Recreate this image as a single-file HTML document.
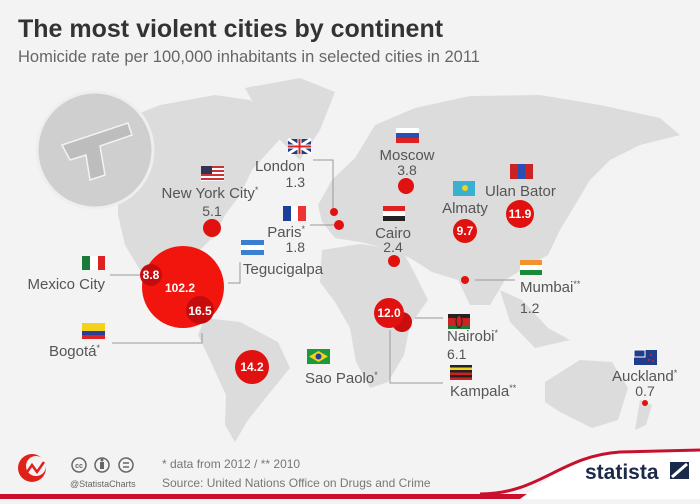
<!DOCTYPE html>
<html><head><meta charset="utf-8"><style>
body{margin:0;width:700px;height:499px;overflow:hidden;background:#f3f3f3;font-family:"Liberation Sans",sans-serif}
</style></head><body>
<svg width="700" height="499" viewBox="0 0 700 499" xmlns="http://www.w3.org/2000/svg" font-family="Liberation Sans, sans-serif">
<rect width="700" height="499" fill="#f3f3f3"/>
<g fill="#dcdcdc">
<!-- North America -->
<path d="M110,125 L160,105 L215,95 L250,100 L290,128 L270,150 L252,170 L240,195 L225,215 L215,235 L200,250 L185,262 L178,285 L195,300 L210,315 L200,320 L180,305 L160,290 L140,270 L125,245 L118,215 L118,180 L105,150 Z"/>
<path d="M245,88 L300,78 L335,92 L320,130 L300,160 L280,140 L260,115 Z"/>
<!-- South America -->
<path d="M205,318 L240,322 L278,342 L290,368 L268,395 L248,420 L235,442 L225,425 L226,395 L210,360 L198,335 Z"/>
<!-- Europe / Asia -->
<path d="M318,205 L332,180 L355,158 L375,125 L415,108 L470,96 L540,95 L600,105 L660,118 L680,135 L640,145 L610,160 L590,180 L575,205 L560,230 L548,255 L525,268 L505,280 L490,305 L470,305 L458,280 L432,272 L410,258 L385,248 L360,242 L335,238 L322,222 Z"/>
<!-- Africa -->
<path d="M322,250 L360,244 L402,250 L414,272 L428,300 L410,325 L404,355 L388,382 L370,388 L356,362 L350,328 L335,302 L320,282 Z"/>
<!-- SE Asia -->
<path d="M500,290 L522,300 L548,328 L570,340 L535,348 L510,322 Z"/>
<!-- Australia -->
<path d="M545,382 L580,360 L612,362 L628,388 L618,420 L592,428 L560,412 L545,402 Z"/>
<path d="M640,400 L652,405 L646,425 L635,430 Z"/>
</g>
<circle cx="95" cy="150" r="58" fill="#cfcfcf" stroke="#eeeeee" stroke-width="3"/>
<path d="M62,145 L128,123 L132,135 L100,146 L105,175 L90,180 L86,155 L70,160 Z" fill="#bdbdbd" stroke="#f3f3f3" stroke-width="1.5"/>

<text x="18" y="37" font-size="25" font-weight="bold" fill="#333">The most violent cities by continent</text>
<text x="18" y="62" font-size="16.5" fill="#666">Homicide rate per 100,000 inhabitants in selected cities in 2011</text>

<g stroke="#999" stroke-width="1" fill="none">
<path d="M313,160 H333 V208"/>
<path d="M310,225 H335"/>
<path d="M110,275 H140"/>
<path d="M240,262 V283 H228"/>
<path d="M112,343 H202 V333"/>
<path d="M475,280 H515"/>
<path d="M415,318 H443"/>
<path d="M390,330 V383 H443"/>
</g>

<g fill="#e0110f">
<circle cx="212" cy="228" r="9"/>
<circle cx="334" cy="212" r="4"/>
<circle cx="339" cy="225" r="5"/>
<circle cx="183" cy="287" r="41" fill="#f2150d"/>
<circle cx="151" cy="275" r="11" fill="#c40c0c"/>
<circle cx="200" cy="310" r="14" fill="#c40c0c"/>
<circle cx="252" cy="367" r="17"/>
<circle cx="406" cy="186" r="8"/>
<circle cx="394" cy="261" r="6"/>
<circle cx="465" cy="231" r="12"/>
<circle cx="520" cy="214" r="14"/>
<circle cx="465" cy="280" r="4"/>
<circle cx="402" cy="322" r="10" fill="#cc0d0d"/>
<circle cx="389" cy="313" r="15"/>
<circle cx="645" cy="403" r="3"/>
</g>
<g fill="#fff" font-size="12" font-weight="bold" text-anchor="middle">
<text x="151" y="279">8.8</text>
<text x="180" y="292">102.2</text>
<text x="200" y="315">16.5</text>
<text x="252" y="371">14.2</text>
<text x="465" y="235">9.7</text>
<text x="520" y="218">11.9</text>
<text x="389" y="317">12.0</text>
</g>

<g fill="#555" font-size="15">
<text x="210" y="198" text-anchor="middle">New York City<tspan font-size="9" dy="-5">*</tspan></text>
<text x="212" y="216" text-anchor="middle" font-size="14">5.1</text>
<text x="305" y="171" text-anchor="end">London</text>
<text x="305" y="187" text-anchor="end" font-size="14">1.3</text>
<text x="305" y="237" text-anchor="end">Paris<tspan font-size="9" dy="-5">*</tspan></text>
<text x="305" y="252" text-anchor="end" font-size="14">1.8</text>
<text x="105" y="289" text-anchor="end">Mexico City</text>
<text x="243" y="274">Tegucigalpa</text>
<text x="100" y="356" text-anchor="end">Bogotá<tspan font-size="9" dy="-5">*</tspan></text>
<text x="305" y="383">Sao Paolo<tspan font-size="9" dy="-5">*</tspan></text>
<text x="407" y="160" text-anchor="middle">Moscow</text>
<text x="407" y="175" text-anchor="middle" font-size="14">3.8</text>
<text x="393" y="238" text-anchor="middle">Cairo</text>
<text x="393" y="252" text-anchor="middle" font-size="14">2.4</text>
<text x="465" y="213" text-anchor="middle">Almaty</text>
<text x="485" y="196">Ulan Bator</text>
<text x="520" y="292">Mumbai<tspan font-size="9" dy="-5">**</tspan></text>
<text x="520" y="308" font-size="14" dy="5">1.2</text>
<text x="447" y="341">Nairobi<tspan font-size="9" dy="-5">*</tspan></text>
<text x="447" y="359" font-size="14">6.1</text>
<text x="450" y="396">Kampala<tspan font-size="9" dy="-5">**</tspan></text>
<text x="612" y="381">Auckland<tspan font-size="9" dy="-5">*</tspan></text>
<text x="645" y="396" text-anchor="middle" font-size="14">0.7</text>
</g>

<g>
<rect x="288" y="139" width="23" height="15" fill="#1f3d8a"/><path d="M288,139 L311,154 M311,139 L288,154" stroke="#fff" stroke-width="3"/><path d="M299.5,139 V154 M288,146.5 H311" stroke="#fff" stroke-width="4"/><path d="M299.5,139 V154 M288,146.5 H311" stroke="#d22" stroke-width="2"/>
<g><rect x="201" y="166" width="23" height="15" fill="#fff"/><rect x="201" y="166" width="23" height="2" fill="#c33"/><rect x="201" y="170" width="23" height="2" fill="#c33"/><rect x="201" y="174" width="23" height="2" fill="#c33"/><rect x="201" y="178" width="23" height="2" fill="#c33"/><rect x="201" y="166" width="11" height="8" fill="#335"/></g>
<rect x="283" y="206" width="8" height="15" fill="#1b3f9a"/><rect x="291" y="206" width="7" height="15" fill="#fff"/><rect x="298" y="206" width="8" height="15" fill="#e33"/>
<rect x="82" y="256" width="8" height="14" fill="#1a7a3a"/><rect x="90" y="256" width="8" height="14" fill="#fff"/><rect x="98" y="256" width="7" height="14" fill="#d22"/>
<rect x="241" y="240" width="23" height="15" fill="#3a7fd0"/><rect x="241" y="245" width="23" height="5" fill="#fff"/>
<rect x="82" y="323" width="23" height="8" fill="#f3d21b"/><rect x="82" y="331" width="23" height="4" fill="#2a3f9a"/><rect x="82" y="335" width="23" height="4" fill="#d22"/>
<rect x="307" y="349" width="23" height="15" fill="#1a9a3a"/><polygon points="318.5,351 328,356.5 318.5,362 309,356.5" fill="#f3d21b"/><circle cx="318.5" cy="356.5" r="3" fill="#2a3f9a"/>
<rect x="396" y="128" width="23" height="5" fill="#fff"/><rect x="396" y="133" width="23" height="5" fill="#2a4fb0"/><rect x="396" y="138" width="23" height="5" fill="#d22"/>
<rect x="383" y="206" width="22" height="5" fill="#d22"/><rect x="383" y="211" width="22" height="5" fill="#fff"/><rect x="383" y="216" width="22" height="5" fill="#222"/>
<rect x="453" y="181" width="22" height="15" fill="#3ab0d0"/><circle cx="465" cy="188" r="3" fill="#f3d21b"/>
<rect x="510" y="164" width="8" height="15" fill="#c22"/><rect x="518" y="164" width="7" height="15" fill="#2a4fb0"/><rect x="525" y="164" width="8" height="15" fill="#c22"/>
<rect x="520" y="260" width="22" height="5" fill="#f29330"/><rect x="520" y="265" width="22" height="5" fill="#fff"/><rect x="520" y="270" width="22" height="5" fill="#1a8a3a"/>
<rect x="448" y="314" width="22" height="4" fill="#222"/><rect x="448" y="318" width="22" height="7" fill="#c22"/><rect x="448" y="325" width="22" height="4" fill="#1a7a3a"/><ellipse cx="459" cy="321.5" rx="3" ry="6" fill="#c22" stroke="#222"/>
<rect x="450" y="365" width="22" height="15" fill="#222"/><rect x="450" y="367.5" width="22" height="2.5" fill="#f3d21b"/><rect x="450" y="372.5" width="22" height="2.5" fill="#c22"/><rect x="450" y="377.5" width="22" height="2.5" fill="#c22"/>
<rect x="634" y="350" width="23" height="15" fill="#1f3d8a"/><rect x="634" y="350" width="11" height="7" fill="#1f3d8a" stroke="#fff" stroke-width="1"/><circle cx="651" cy="355" r="1" fill="#d22"/><circle cx="649" cy="360" r="1" fill="#d22"/><circle cx="653" cy="361" r="1" fill="#d22"/>
</g>

<path d="M0,494 H700 V499 H0 Z" fill="#c8102e"/>
<path d="M520,499 C560,470 580,455 620,452 L700,448 V499 Z" fill="#fff"/>
<path d="M480,494 C540,494 560,456 620,452 L700,450" stroke="#c8102e" stroke-width="3" fill="none"/>
<circle cx="32" cy="468" r="14" fill="#e0211a"/>
<circle cx="36" cy="466" r="10" fill="#f3f3f3"/>
<path d="M25,475 L32,465 L37,472 L44,462" stroke="#e0211a" stroke-width="2.5" fill="none"/>
<g fill="none" stroke="#666" stroke-width="1.5"><circle cx="79" cy="465" r="7"/><circle cx="102" cy="465" r="7"/><circle cx="126" cy="465" r="7"/></g>
<text x="79" y="468" font-size="7" fill="#666" text-anchor="middle" font-weight="bold">cc</text>
<rect x="100" y="462" width="4" height="7" fill="#666"/><circle cx="102" cy="460" r="1.5" fill="#666"/>
<path d="M123,463 H129 M123,467 H129" stroke="#666" stroke-width="1.5"/>
<text x="70" y="487" font-size="9" fill="#666">@StatistaCharts</text>
<text x="162" y="468" font-size="12" fill="#777">* data from 2012 / ** 2010</text>
<text x="162" y="487" font-size="12" fill="#777">Source: United Nations Office on Drugs and Crime</text>
<text x="585" y="479" font-size="21" font-weight="bold" fill="#1b2a48">statista</text>
<rect x="670" y="462" width="19" height="17" fill="#1b2a48"/>
<path d="M672,477 L687,464" stroke="#fff" stroke-width="3"/>
</svg>
</body></html>
